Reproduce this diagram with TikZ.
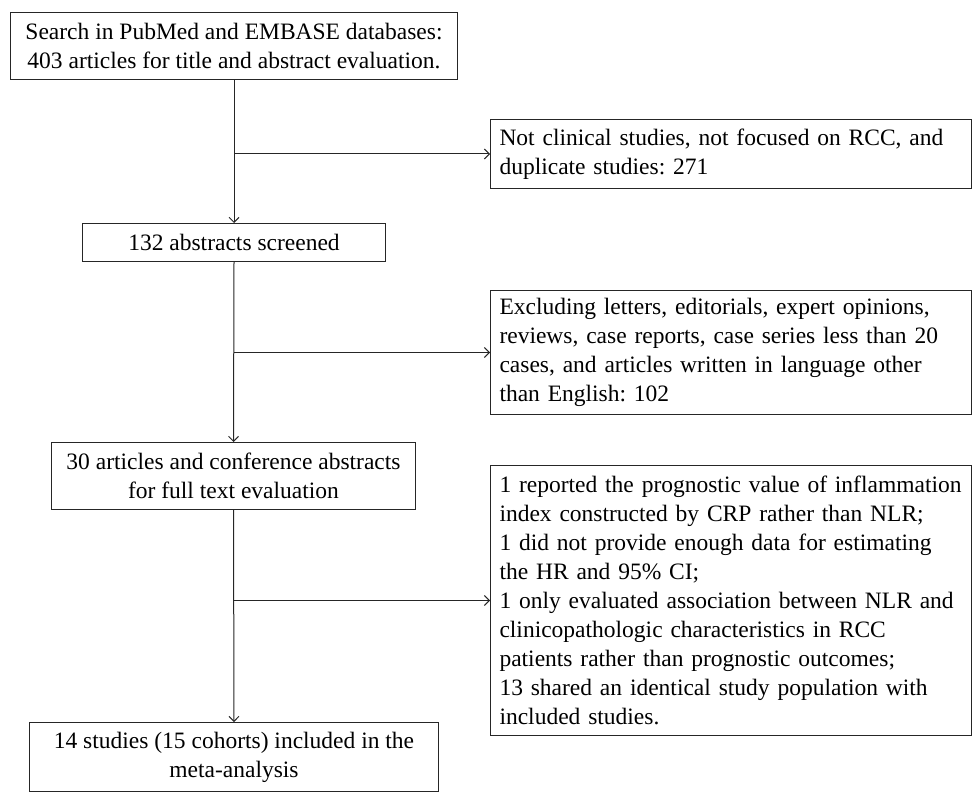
\documentclass[tikz,border=0pt]{standalone}
\usepackage{fontspec}
\setmainfont{Liberation Serif}
\usetikzlibrary{arrows.meta}
\frenchspacing
\begin{document}
\begin{tikzpicture}[x=1pt,y=-1pt,
  box/.style={draw=black!85, line width=1pt, inner sep=0pt, anchor=north west,
    font=\fontsize{23.5}{29}\selectfont},
  lbox/.style={box, align=center},
  rbox/.style={box, minimum width=481, text width=463, align=left},
  arr/.style={draw=black!85, -{Straight Barb[length=5pt,width=10pt,line width=1pt]}, line width=1pt}]
\useasboundingbox (0,0) rectangle (973,794);
\node[lbox, minimum width=447, minimum height=67] (b1) at (10,12)
  {Search in PubMed and EMBASE databases:\\403 articles for title and abstract evaluation.};
\node[lbox, minimum width=303, minimum height=38] (b2) at (82,223)
  {132 abstracts screened};
\node[lbox, minimum width=364, minimum height=67] (b3) at (51,442)
  {30 articles and conference abstracts\\for full text evaluation};
\node[lbox, minimum width=409, minimum height=69] (b4) at (29,722)
  {14 studies (15 cohorts) included in the\\meta-analysis};
\node[rbox, minimum height=69] (bA) at (490,119)
  {\mbox{Not clinical studies, not focused on RCC, and}\\duplicate studies: 271};
\node[rbox, minimum height=124] (bB) at (490,290)
  {\mbox{Excluding letters, editorials, expert opinions,}\\\mbox{reviews, case reports, case series less than 20}\\\mbox{cases, and articles written in language other}\\than English: 102};
\node[rbox, minimum height=270] (bC) at (490,465)
  {\mbox{1 reported the prognostic value of inflammation}\\\mbox{index constructed by CRP rather than NLR;}\\\mbox{1 did not provide enough data for estimating}\\the HR and 95\% CI;\\\mbox{1 only evaluated association between NLR and}\\\mbox{clinicopathologic characteristics in RCC}\\\mbox{patients rather than prognostic outcomes;}\\\mbox{13 shared an identical study population with}\\included studies.};
\draw[arr] (b1.south) -- (b2.north);
\draw[arr] (b2.south) -- (b3.north);
\draw[arr] (b3.south) -- (b4.north);
\draw[arr] (b1.south |- bA.west) -- (bA.west);
\draw[arr] (b2.south |- bB.west) -- (bB.west);
\draw[arr] (b3.south |- bC.west) -- (bC.west);
\end{tikzpicture}
\end{document}
